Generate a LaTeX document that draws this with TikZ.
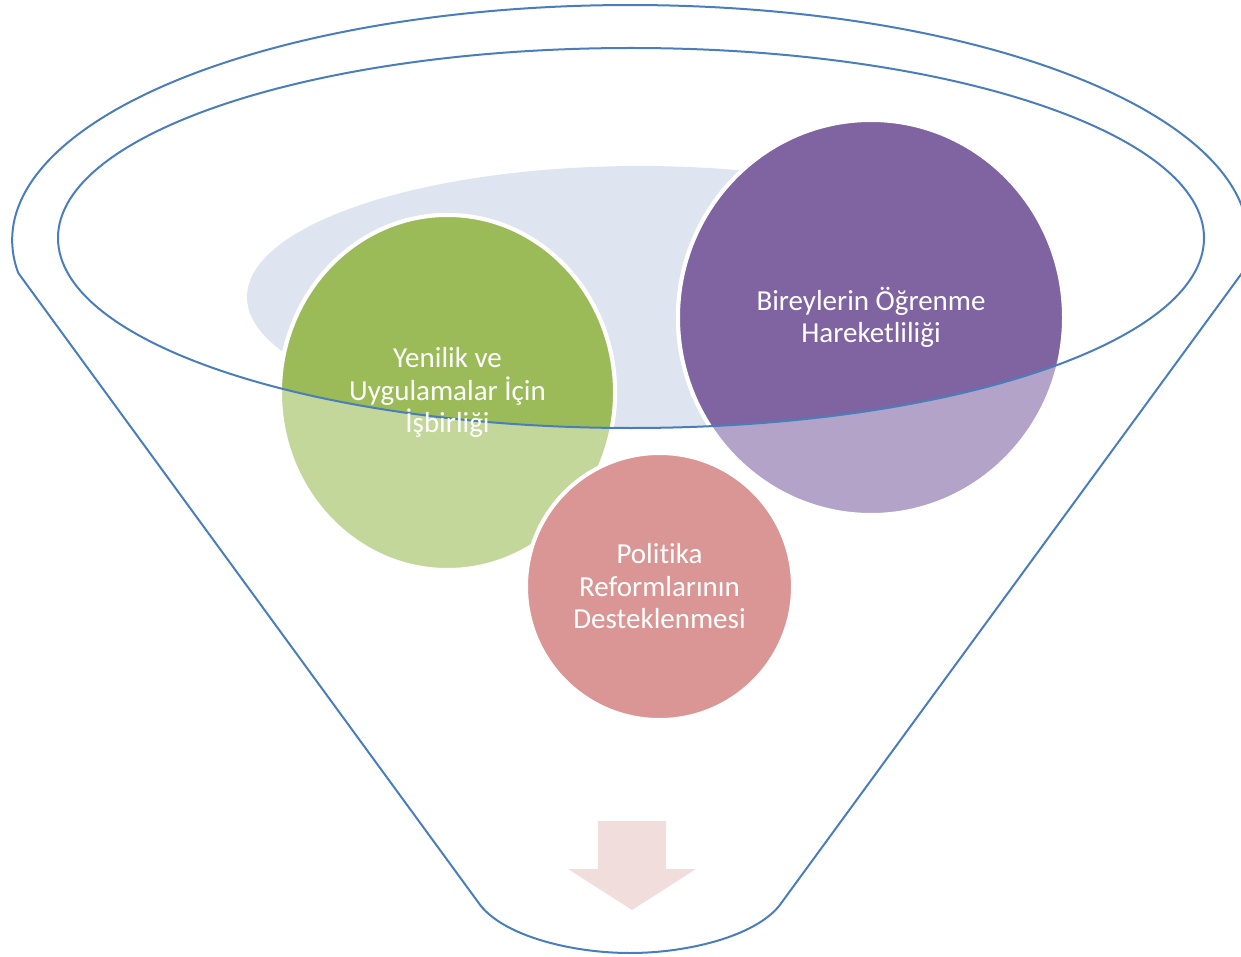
\documentclass[tikz,border=0pt]{standalone}
\usepackage{fontspec}
\setmainfont{Carlito}[Ligatures=NoCommon]
\usetikzlibrary{shapes.geometric}

\definecolor{rim}{RGB}{74,126,187}
\definecolor{haze}{RGB}{223,229,240}
\definecolor{olive}{RGB}{155,187,89}
\definecolor{oliveLight}{RGB}{196,215,155}
\definecolor{plum}{RGB}{128,100,162}
\definecolor{plumLight}{RGB}{180,163,200}
\definecolor{rose}{RGB}{217,150,149}
\definecolor{blush}{RGB}{242,221,221}

\begin{document}
\begin{tikzpicture} [x=1pt, y=-1pt]
	\tikzset{bubble/.style={ellipse, draw=white, line width=4pt, inner sep=0pt}}
	\tikzset{caption/.style={text=white, align=center, font=\fontsize{29}{32.5}\selectfont}}
	\useasboundingbox (0,0) rectangle (1241,957);

	% back plate inside the rim
	\fill[haze] (640,297) ellipse [x radius=393, y radius=131];

	% bubbles, hazy part
	\node[bubble, fill=oliveLight, minimum width=335pt, minimum height=355pt]	(yenilik)	at (447.5,392.5)	{};
	\node[bubble, fill=plumLight, minimum width=386pt, minimum height=395pt]	(bireyler)	at (871,317.5)		{};
	\node[bubble, fill=rose, minimum width=267pt, minimum height=267pt]		(politika)	at (659.5,586.5)	{};

	% bubbles, clear part inside the rim
	\begin{scope}
		\clip (631,238) ellipse [x radius=573, y radius=190];
		\node[bubble, fill=olive, minimum width=335pt, minimum height=355pt]	(yenilik-top)	at (yenilik)	{};
		\node[bubble, fill=plum, minimum width=386pt, minimum height=395pt]	(bireyler-top)	at (bireyler)	{};
	\end{scope}

	% outlet arrow
	\fill[blush] (598,821) -- (666,821) -- (666,869) -- (696,869) -- (632,910)
		-- (568,869) -- (598,869) -- cycle;

	% funnel
	\draw[rim, line width=2pt] (1242,273)
		arc [start angle=8.07, end angle=-188.07, x radius=618, y radius=235]
		-- (478,902) .. controls (500,935) and (570,953) .. (630,953)
		.. controls (690,953) and (760,935) .. (782,902) -- cycle;
	\draw[rim, line width=2pt] (631,238) ellipse [x radius=573, y radius=190];

	\node[caption]	(yenilik-text)	at (yenilik)	{Yenilik ve\\Uygulamalar İçin\\İşbirliği};
	\node[caption]	(bireyler-text)	at (bireyler)	{Bireylerin Öğrenme\\Hareketliliği};
	\node[caption]	(politika-text)	at (politika)	{Politika\\Reformlarının\\Desteklenmesi};
\end{tikzpicture}
\end{document}
